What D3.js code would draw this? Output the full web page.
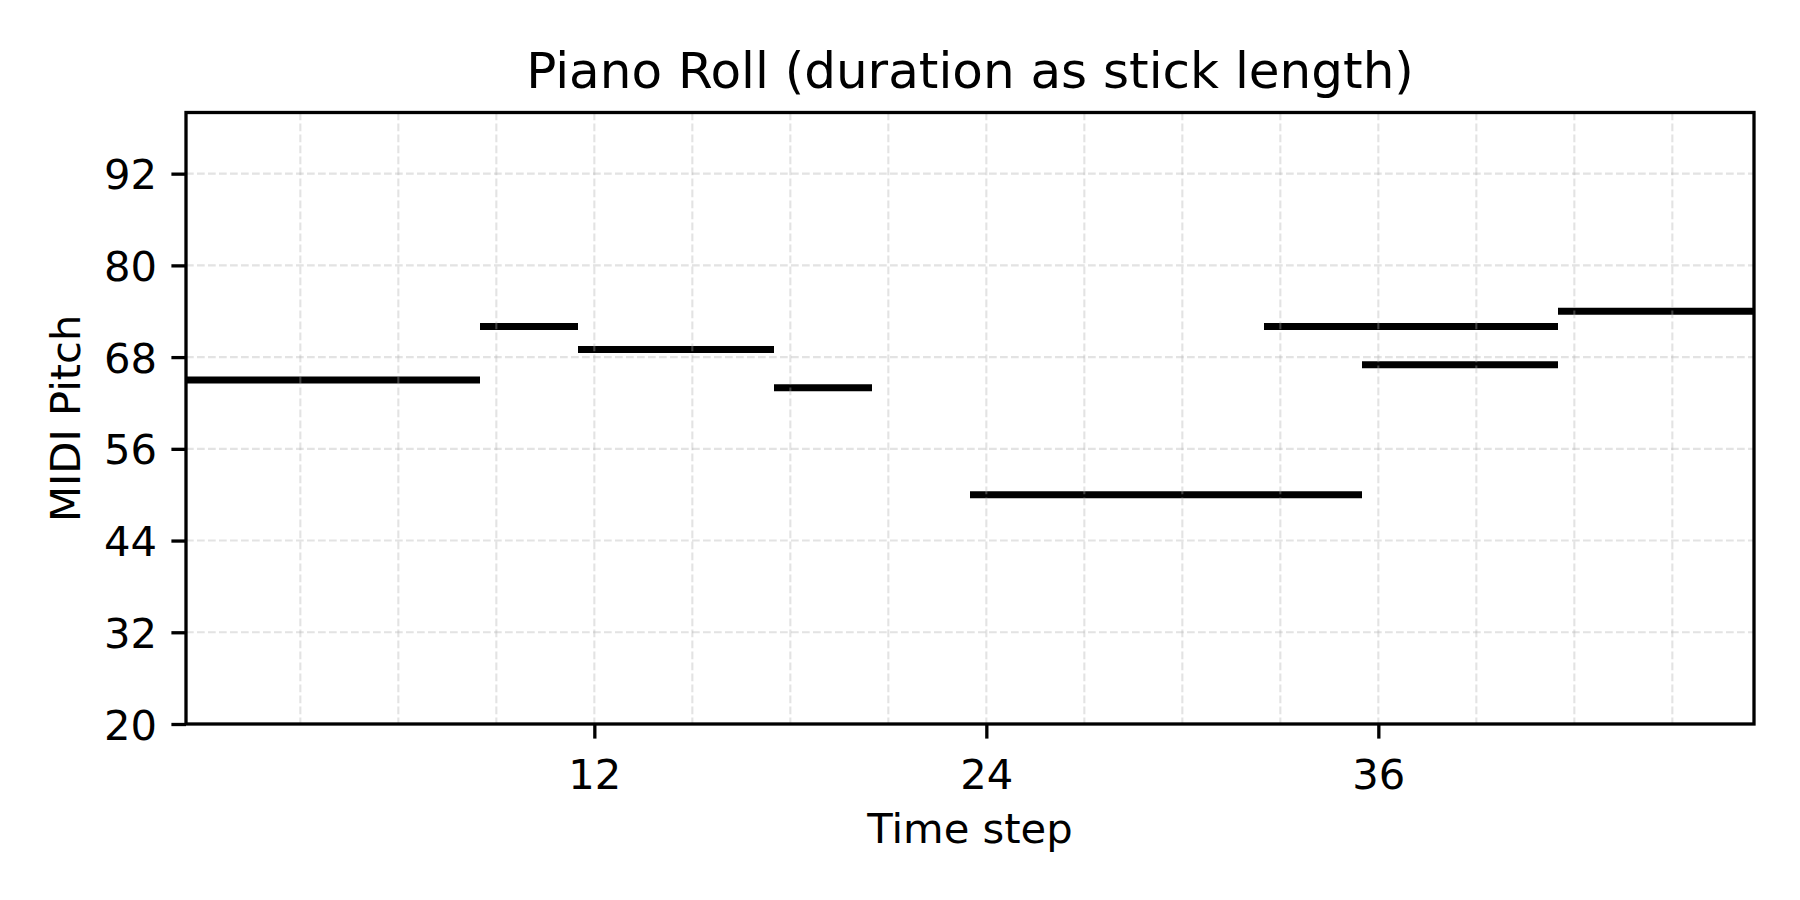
<!DOCTYPE html>
<html>
<head>
<meta charset="utf-8">
<script src="https://cdn.jsdelivr.net/npm/d3@7"></script>
<style>
  html, body { margin: 0; padding: 0; background: #fff; }
  svg { display: block; font-family: "DejaVu Sans", sans-serif; }
</style>
</head>
<body>
<div id="chart"></div>
<script>
// notes: start step, duration (steps), MIDI pitch
const noteStarts = [0, 9, 12, 18, 24, 33, 36, 42];
const noteDurations = [9, 3, 6, 3, 12, 9, 6, 6];
const notePitches = [65, 72, 69, 64, 50, 72, 67, 74];

const xMajorTicks = [12, 24, 36];
const xMinorTicks = [3, 6, 9, 15, 18, 21, 27, 30, 33, 39, 42, 45];
const yTicks = [20, 32, 44, 56, 68, 80, 92];

const W = 1800, H = 900;
const margin = {top: 112.5, right: 46, bottom: 176, left: 186};
const iw = W - margin.left - margin.right;
const ih = H - margin.top - margin.bottom;

const svg = d3.select("#chart").append("svg")
  .attr("width", W)
  .attr("height", H);

const g = svg.append("g")
  .attr("transform", `translate(${margin.left},${margin.top})`);

const x = d3.scaleLinear().domain([-0.5, 47.5]).range([0, iw]);
const y = d3.scaleLinear().domain([20, 100]).range([ih, 0]);

// sticks
const notes = noteStarts.map((s, i) => ({start: s, dur: noteDurations[i], pitch: notePitches[i]}));
g.append("g").selectAll("line")
  .data(notes)
  .join("line")
  .attr("x1", d => x(d.start - 0.5))
  .attr("x2", d => x(d.start + d.dur - 0.5))
  .attr("y1", d => y(d.pitch))
  .attr("y2", d => y(d.pitch))
  .attr("stroke", "#000")
  .attr("stroke-width", 7)
  .attr("stroke-linecap", "butt");

// grid (sits on top of sticks, semi transparent)
const grid = g.append("g")
  .attr("stroke", "#b0b0b0")
  .attr("stroke-opacity", 0.35)
  .attr("stroke-width", 2.1)
  .attr("stroke-dasharray", "7.7,3.3");
grid.selectAll("line.v")
  .data(xMajorTicks.concat(xMinorTicks))
  .join("line")
  .attr("class", "v")
  .attr("x1", d => x(d)).attr("x2", d => x(d))
  .attr("y1", 0).attr("y2", ih);
grid.selectAll("line.h")
  .data(yTicks.filter(t => t > 20))
  .join("line")
  .attr("class", "h")
  .attr("x1", 0).attr("x2", iw)
  .attr("y1", d => y(d)).attr("y2", d => y(d));

// axes
const xAxis = g.append("g")
  .attr("transform", `translate(0,${ih})`)
  .call(d3.axisBottom(x).tickValues(xMajorTicks).tickSize(14.6).tickPadding(20.5).tickFormat(d3.format("d")));
const yAxis = g.append("g")
  .call(d3.axisLeft(y).tickValues(yTicks).tickSize(14.6).tickPadding(14.4).tickFormat(d3.format("d")));

[xAxis, yAxis].forEach(a => {
  a.select(".domain").remove();
  a.selectAll(".tick line").attr("stroke", "#000").attr("stroke-width", 3.3);
  a.selectAll(".tick text")
    .attr("fill", "#000")
    .style("font-family", "DejaVu Sans")
    .style("font-size", "41.7px");
});
yAxis.selectAll(".tick text").attr("dy", "0.36em");

// frame
g.append("rect")
  .attr("x", 0).attr("y", 0)
  .attr("width", iw).attr("height", ih)
  .attr("fill", "none")
  .attr("stroke", "#000")
  .attr("stroke-width", 3.3);

// title and labels
svg.append("text")
  .attr("x", margin.left + iw / 2)
  .attr("y", 88)
  .attr("text-anchor", "middle")
  .style("font-size", "50px")
  .text("Piano Roll (duration as stick length)");

svg.append("text")
  .attr("x", margin.left + iw / 2)
  .attr("y", 843)
  .attr("text-anchor", "middle")
  .style("font-size", "41.7px")
  .text("Time step");

svg.append("text")
  .attr("transform", `translate(80,${margin.top + ih / 2}) rotate(-90)`)
  .attr("text-anchor", "middle")
  .style("font-size", "41.7px")
  .text("MIDI Pitch");
</script>
</body>
</html>
